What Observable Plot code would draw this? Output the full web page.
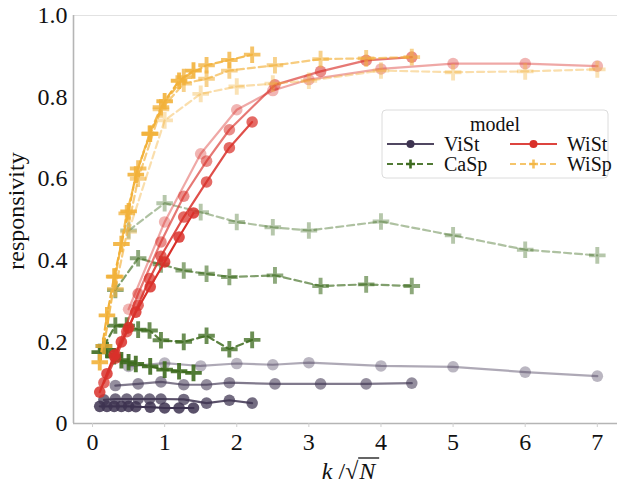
<!DOCTYPE html>
<html><head><meta charset="utf-8">
<script src="https://cdn.jsdelivr.net/npm/d3@7"></script>
<script src="https://cdn.jsdelivr.net/npm/@observablehq/plot@0.6"></script>
<style>
body{margin:0;background:#fff;}
#wrap{position:relative;width:617px;height:488px;}
#wrap svg, #wrap svg text{font-family:"Liberation Serif","Times New Roman",Times,"DejaVu Serif",serif !important;}
</style></head><body><div id="wrap"></div>
<script>
const models = ["ViSt","CaSp","WiSt","WiSp"];
const Ns = [100, 250, 1000, 2500];
const ks = [5, 10, 15, 20, 25, 30, 40, 50, 60, 70];
const xTicks = [0,1,2,3,4,5,6,7];
const yTicks = [0,0.2,0.4,0.6,0.8,1.0];

const ViSt_N100  = [0.140,0.148,0.141,0.147,0.144,0.149,0.141,0.139,0.126,0.116];
const ViSt_N250  = [0.093,0.097,0.102,0.095,0.095,0.100,0.097,0.097,0.097,0.099];
const ViSt_N1000 = [0.058,0.060,0.060,0.060,0.060,0.060,0.059,0.050,0.057,0.050];
const ViSt_N2500 = [0.042,0.042,0.042,0.042,0.042,0.041,0.040,0.038,0.038,0.038];

const CaSp_N100  = [0.473,0.540,0.518,0.494,0.481,0.473,0.495,0.461,0.426,0.412];
const CaSp_N250  = [0.327,0.405,0.390,0.375,0.367,0.359,0.363,0.337,0.341,0.337];
const CaSp_N1000 = [0.190,0.240,0.240,0.230,0.228,0.204,0.200,0.215,0.182,0.205];
const CaSp_N2500 = [0.175,0.180,0.165,0.155,0.150,0.146,0.140,0.132,0.128,0.124];

const WiSt_N100  = [0.280,0.494,0.661,0.769,0.816,0.843,0.869,0.882,0.882,0.876];
const WiSt_N250  = [0.170,0.318,0.445,0.557,0.643,0.720,0.830,0.863,0.890,0.898];
const WiSt_N1000 = [0.100,0.160,0.225,0.290,0.355,0.410,0.506,0.592,0.676,0.739];
const WiSt_N2500 = [0.077,0.122,0.167,0.200,0.235,0.273,0.335,0.396,0.457,0.516];

const WiSp_N100  = [0.470,0.743,0.808,0.826,0.833,0.840,0.865,0.861,0.863,0.868];
const WiSp_N250  = [0.330,0.600,0.770,0.833,0.845,0.865,0.878,0.893,0.895,0.898];
const WiSp_N1000 = [0.190,0.360,0.515,0.625,0.710,0.775,0.849,0.878,0.891,0.904];
const WiSp_N2500 = [0.150,0.265,0.360,0.440,0.520,0.610,0.710,0.790,0.840,0.865];

const values = {
  ViSt: [ViSt_N100, ViSt_N250, ViSt_N1000, ViSt_N2500],
  CaSp: [CaSp_N100, CaSp_N250, CaSp_N1000, CaSp_N2500],
  WiSt: [WiSt_N100, WiSt_N250, WiSt_N1000, WiSt_N2500],
  WiSp: [WiSp_N100, WiSp_N250, WiSp_N1000, WiSp_N2500]
};
const colors = {ViSt:"#3d3350", CaSp:"#3e6b1f", WiSt:"#d9302a", WiSp:"#f2b13a"};
const dashed = {ViSt:false, CaSp:true, WiSt:false, WiSp:true};
const opac = {100:0.42, 250:0.65, 1000:0.85, 2500:1};

const rows = [];
for (const m of models) {
  Ns.forEach((N, j) => {
    ks.forEach((k, i) => rows.push({model:m, N, x:k/Math.sqrt(N), y:values[m][j][i]}));
  });
}

const font = '"Liberation Serif","Times New Roman",Times,"DejaVu Serif",serif';
const marks = [
  Plot.ruleY([1], {stroke:"#e2e2e2", strokeWidth:1.2}),
  Plot.ruleX([-0.264], {stroke:"#b5b5b5", strokeWidth:1.6}),
  Plot.ruleY([0], {stroke:"#b5b5b5", strokeWidth:1.6}),
  Plot.axisX({ticks:xTicks, tickFormat:d=>String(d), tickSize:4, tickPadding:5, fontSize:24, label:null, stroke:"#cfcfcf"}),
  Plot.axisY({ticks:yTicks, tickFormat:d=>d===0?"0":d.toFixed(1), tickSize:0, tickPadding:6, fontSize:24, label:null})
];
for (const m of models) {
  for (const N of Ns) {
    const d = rows.filter(r => r.model===m && r.N===N);
    const o = opac[N];
    marks.push(Plot.line(d, {x:"x", y:"y", stroke:colors[m], strokeOpacity:o, strokeWidth:2.2,
      strokeDasharray: dashed[m] ? "7,4" : null}));
    if (m.endsWith("St")) {
      marks.push(Plot.dot(d, {x:"x", y:"y", r:5.8, fill:colors[m], fillOpacity:o*0.85, stroke:null}));
    } else {
      marks.push(Plot.dot(d, {x:"x", y:"y", symbol:"plus", r:5.4, stroke:colors[m], strokeOpacity:o*0.9, strokeWidth:3.9}));
    }
  }
}

const chart = Plot.plot({
  width:617, height:488,
  marginLeft:73, marginRight:0, marginTop:15, marginBottom:65,
  x:{domain:[-0.264, 7.28]},
  y:{domain:[0, 1]},
  style:{fontFamily:font, background:"#fff", color:"#111"},
  marks
});
document.getElementById("wrap").appendChild(chart);

const svg = d3.select(chart);
svg.selectAll("text").attr("font-family", font).style("font-family", font);
// y label
svg.append("text").attr("transform","translate(24,211) rotate(-90)")
  .attr("text-anchor","middle").attr("font-size",24).attr("fill","#111")
  .style("font-family", font).text("responsivity");
// x label k /√N with overline
const xl = svg.append("g").attr("font-size",24).attr("fill","#111").attr("text-anchor","start").style("font-family", font);
const t1 = xl.append("text").attr("x",0).attr("y",479).attr("text-anchor","start");
t1.append("tspan").attr("font-style","italic").text("k");
t1.append("tspan").text(" /\u221A");
const w1 = t1.node().getBBox().width;
const t2 = xl.append("text").attr("x",w1).attr("y",479).attr("text-anchor","start").attr("font-style","italic").text("N");
const w2 = t2.node().getBBox().width;
xl.append("line").attr("x1",w1-1).attr("x2",w1+w2+1).attr("y1",458).attr("y2",458).attr("stroke","#111").attr("stroke-width",1.3);
const tot = w1 + w2;
xl.attr("transform",`translate(${350 - tot/2},0)`);

// legend
const lg = svg.append("g").attr("transform","translate(382,110)").style("font-family", font);
lg.append("rect").attr("width",226).attr("height",68).attr("rx",4)
  .attr("fill","rgba(255,255,255,0.85)").attr("stroke","#dcdcdc");
lg.append("text").attr("x",113).attr("y",21).attr("text-anchor","middle").attr("font-size",20).attr("fill","#111").text("model");
const items = [
  {m:"ViSt", col:0, row:0}, {m:"CaSp", col:0, row:1},
  {m:"WiSt", col:1, row:0}, {m:"WiSp", col:1, row:1}
];
for (const it of items) {
  const x0 = 5 + it.col*123, y0 = 34 + it.row*20;
  const c = colors[it.m];
  lg.append("line").attr("x1",x0).attr("x2",x0+47).attr("y1",y0).attr("y2",y0)
    .attr("stroke",c).attr("stroke-width",2.2).attr("stroke-opacity", it.m==="WiSp"?0.75:0.9)
    .attr("stroke-dasharray", dashed[it.m] ? "6,4" : null);
  if (it.m.endsWith("St")) {
    lg.append("circle").attr("cx",x0+23.5).attr("cy",y0).attr("r",4).attr("fill",c);
  } else {
    lg.append("path").attr("d",`M${x0+19},${y0}h9M${x0+23.5},${y0-4.5}v9`).attr("stroke",c).attr("stroke-width",2.6)
      .attr("stroke-opacity", it.m==="WiSp"?0.8:1);
  }
  lg.append("text").attr("x",x0+57).attr("y",y0+7).attr("text-anchor","start").attr("font-size",20).attr("fill","#111").text(it.m);
}
</script></body></html>
